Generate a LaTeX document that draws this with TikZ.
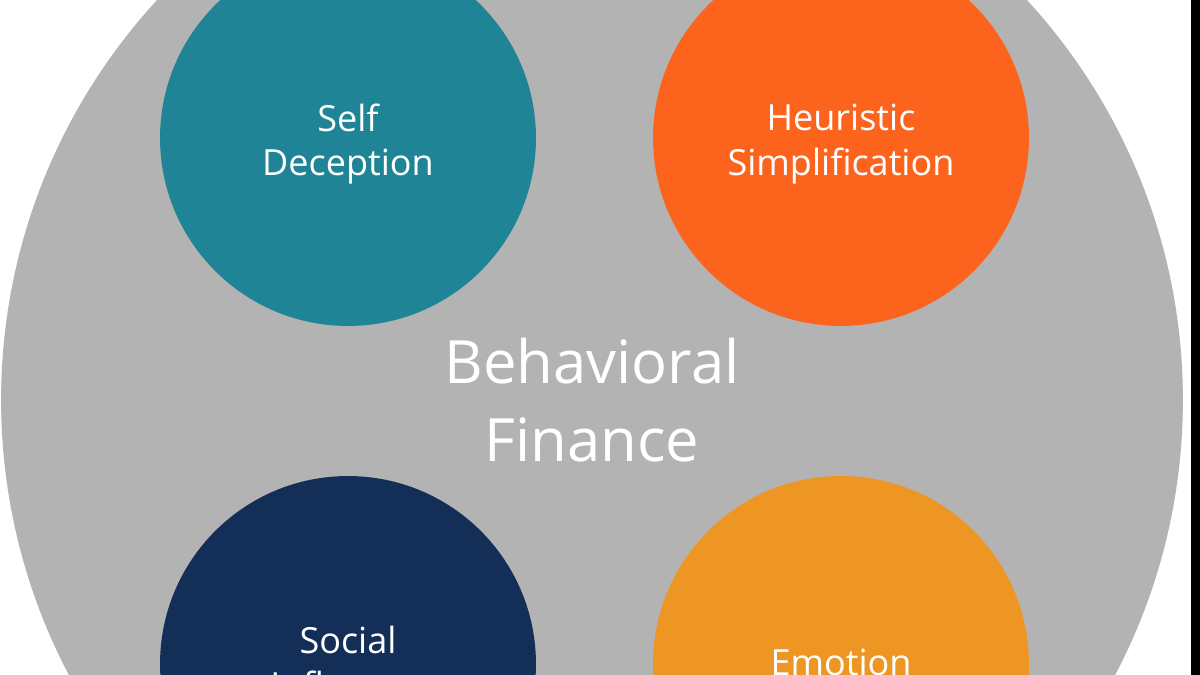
\documentclass[tikz,border=0pt]{standalone}
\usepackage{fontspec}
\setmainfont{Open Sans}
\usepackage{xcolor}
\usetikzlibrary{positioning}

\definecolor{ringgray}{HTML}{B3B3B3}
\definecolor{selfteal}{HTML}{1F8496}
\definecolor{heurorange}{HTML}{FC641E}
\definecolor{socialnavy}{HTML}{142F57}
\definecolor{emoamber}{HTML}{EE9623}

\begin{document}
\begin{tikzpicture}[
  x=0.02cm, y=-0.02cm,
  every node/.style={text=white, align=center, inner sep=0pt},
  bubble/.style={circle, minimum size=7.52cm},
  tag/.style={font=\fontsize{20.5}{25.5}\selectfont},
]
  \useasboundingbox (0,0) rectangle (1200,675);
  \clip (0,0) rectangle (1200,675);
  \fill[white] (0,0) rectangle (1200,675);

  % Outer circle with the main label
  \node[circle, fill=ringgray, minimum size=23.64cm,
        font=\fontsize{34}{44}\selectfont] (core) at (592,400)
    {Behavioral\\Finance};

  % Four factor circles
  \node[bubble, fill=selfteal]   (self)   at (348,138) {};
  \node[bubble, fill=heurorange] (heur)   at (841,138) {};
  \node[bubble, fill=socialnavy] (social) at (348,664) {};
  \node[bubble, fill=emoamber]   (emo)    at (841,664) {};

  % Their labels
  \node[tag] (selft)   at ([yshift=-0.12cm]self)  {Self\\Deception};
  \node[tag] (heurt)   at ([yshift=-0.12cm]heur)  {Heuristic\\Simplification};
  \node[tag] (socialt) at ([yshift=0.03cm]social) {Social\\Influence};
  \node[tag] (emot)    at ([yshift=0.03cm]emo)    {Emotion};

  % Dark strip at the right edge
  \fill[black] (1191,0) rectangle (1200,675);
\end{tikzpicture}
\end{document}
